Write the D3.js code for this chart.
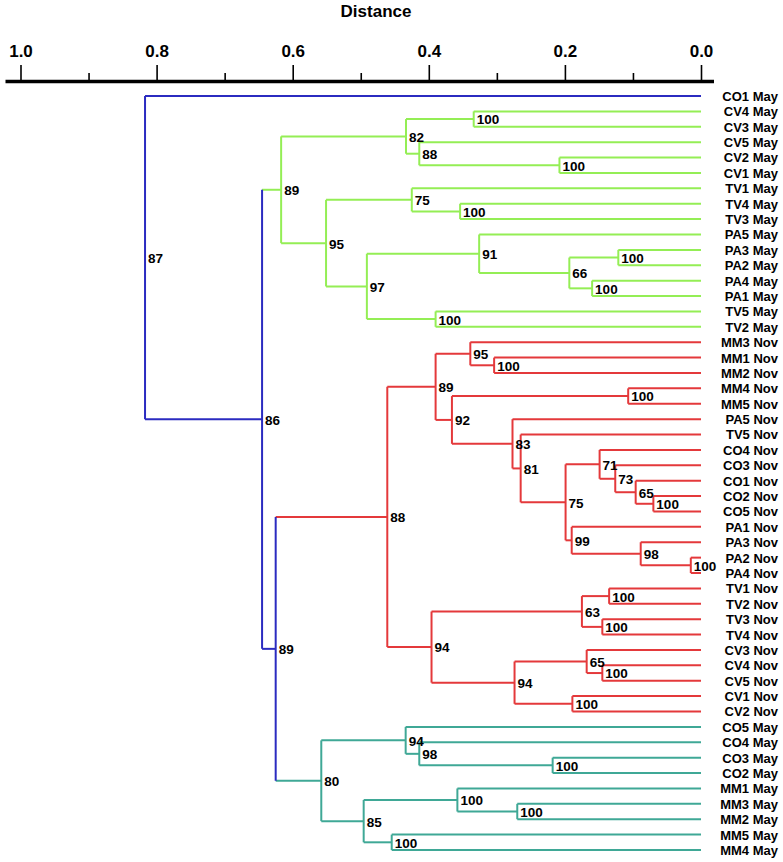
<!DOCTYPE html>
<html><head><meta charset="utf-8">
<script src="https://cdn.jsdelivr.net/npm/d3@7"></script>
<style>
html,body{margin:0;padding:0;background:#fff;}
svg{display:block;font-family:"Liberation Sans",Arial,sans-serif;font-weight:bold;}
</style></head><body>
<svg id="chart" width="783" height="862"></svg>
<script>
// ---- DATA ----
const leaves = [
  "CO1 May","CV4 May","CV3 May","CV5 May","CV2 May","CV1 May","TV1 May","TV4 May","TV3 May",
  "PA5 May","PA3 May","PA2 May","PA4 May","PA1 May","TV5 May","TV2 May",
  "MM3 Nov","MM1 Nov","MM2 Nov","MM4 Nov","MM5 Nov","PA5 Nov","TV5 Nov","CO4 Nov","CO3 Nov",
  "CO1 Nov","CO2 Nov","CO5 Nov","PA1 Nov","PA3 Nov","PA2 Nov","PA4 Nov","TV1 Nov","TV2 Nov",
  "TV3 Nov","TV4 Nov","CV3 Nov","CV4 Nov","CV5 Nov","CV1 Nov","CV2 Nov",
  "CO5 May","CO4 May","CO3 May","CO2 May","MM1 May","MM3 May","MM2 May","MM5 May","MM4 May"
];
// merges: ids < 50 are leaves, id 50+k is merge k
const merges = [
  [1,2],[4,5],[3,51],[50,52],[7,8],[6,54],[10,11],[12,13],[56,57],[9,58],[14,15],[59,60],[55,61],[53,62],
  [17,18],[16,64],[19,20],[26,27],[25,67],[24,68],[23,69],[30,31],[29,71],[28,72],[70,73],[22,74],[21,75],
  [66,76],[65,77],[32,33],[34,35],[79,80],[37,38],[36,82],[39,40],[83,84],[81,85],[78,86],
  [43,44],[42,88],[41,89],[46,47],[45,91],[48,49],[92,93],[90,94],
  [87,95],[63,96],[0,97]
];
const mergeDistance = [
  0.334,0.208,0.414,0.4335,0.354,0.425,0.1215,0.160,0.1935,0.326,0.390,0.491,0.551,0.617,
  0.304,0.339,0.107,0.070,0.096,0.126,0.149,0.015,0.0886,0.190,0.199,0.265,0.277,
  0.366,0.390,0.135,0.145,0.175,0.145,0.168,0.189,0.274,0.396,0.461,
  0.218,0.414,0.434,0.270,0.358,0.4545,0.4957,0.558,
  0.625,0.645,0.817
];
const mergeSupport = [
  100,100,88,82,100,75,100,100,66,91,100,97,95,89,
  100,95,100,100,65,73,71,100,98,99,75,81,83,
  92,89,100,100,63,100,65,100,94,94,88,
  100,98,94,100,100,100,85,80,
  89,86,87
];
const mergeCluster = [
  "mayA","mayA","mayA","mayA","mayA","mayA","mayA","mayA","mayA","mayA","mayA","mayA","mayA","mayA",
  "nov","nov","nov","nov","nov","nov","nov","nov","nov","nov","nov","nov","nov",
  "nov","nov","nov","nov","nov","nov","nov","nov","nov","nov","nov",
  "mayB","mayB","mayB","mayB","mayB","mayB","mayB","mayB",
  "outer","outer","outer"
];
const clusters = ["outer","mayA","nov","mayB"];
const clusterColors = ["#2B2BC0","#94EE55","#E4393B","#3FA896"];
const majorTicks = [1.0,0.8,0.6,0.4,0.2,0.0];
const minorTicks = [0.9,0.7,0.5,0.3,0.1];
const axisTitle = "Distance";

// ---- BUILD TREE ----
const nodeById = {};
leaves.forEach((name,i)=>{ nodeById[i] = {id:i, name, dist:0}; });
merges.forEach((pair,k)=>{
  nodeById[50+k] = {id:50+k, dist:mergeDistance[k], support:mergeSupport[k],
    cluster:mergeCluster[k], children:pair.map(c=>nodeById[c])};
});
const rootData = nodeById[50+merges.length-1];
const root = d3.hierarchy(rootData);

// ---- SCALES ----
const svg = d3.select("#chart");
const x = d3.scaleLinear().domain([1,0]).range([20.5,701]);
const y = d3.scalePoint().domain(leaves).range([96,850]);
const color = d3.scaleOrdinal().domain(clusters).range(clusterColors);

root.eachAfter(n=>{
  if (!n.children) n.py = y(n.data.name);
  else n.py = d3.mean(n.children, c=>c.py);
  n.px = x(n.data.dist);
});
root.each(n=>{
  n.col = n.children ? color(n.data.cluster) : color(n.parent.data.cluster);
});

// ---- AXIS ----
const axisY = 80;
const gAxis = svg.append("g").attr("transform",`translate(0,${axisY})`);
gAxis.call(d3.axisTop(x).tickValues(majorTicks).tickFormat(d3.format(".1f")).tickSize(15).tickPadding(8));
gAxis.select(".domain").remove();
gAxis.selectAll(".tick line").attr("stroke","#000").attr("stroke-width",1.6);
gAxis.selectAll(".tick text").attr("fill","#000").style("font-size","17px").style("font-weight","bold")
  .style("font-family","'Liberation Sans',Arial,sans-serif");
const gMinor = svg.append("g").attr("transform",`translate(0,${axisY})`);
gMinor.call(d3.axisTop(x).tickValues(minorTicks).tickFormat("").tickSize(7));
gMinor.select(".domain").remove();
gMinor.selectAll(".tick line").attr("stroke","#000").attr("stroke-width",1.6);
svg.append("line")
  .attr("x1", x(1)-15).attr("x2", x(0)+13)
  .attr("y1", axisY+1.5).attr("y2", axisY+1.5)
  .attr("stroke","#000").attr("stroke-width",3.5);
svg.append("text").attr("x",376).attr("y",16.5).attr("text-anchor","middle")
  .style("font-size","17px").text(axisTitle);

// ---- TREE LINES ----
const gLines = svg.append("g").attr("fill","none").attr("stroke-width",2);
const internal = root.descendants().filter(n=>n.children);
internal.forEach(n=>{
  n.children.forEach(c=>{
    gLines.append("line")
      .attr("x1", n.px).attr("x2", c.px).attr("y1", c.py).attr("y2", c.py)
      .attr("stroke", c.col);
  });
});
internal.forEach(n=>{
  const ys = n.children.map(c=>c.py);
  gLines.append("line")
    .attr("x1", n.px).attr("x2", n.px).attr("y1", d3.min(ys)).attr("y2", d3.max(ys))
    .attr("stroke", n.col);
});

// ---- LABELS ----
svg.append("g").selectAll("text").data(internal).join("text")
  .attr("x", n=>n.px+3).attr("y", n=>n.py).attr("dy","0.4em")
  .style("font-size","13.5px").attr("fill","#000")
  .text(n=>n.data.support);

svg.append("g").selectAll("text").data(root.leaves()).join("text")
  .attr("x", 778).attr("y", n=>n.py).attr("dy","0.38em").attr("text-anchor","end")
  .style("font-size","13px").attr("fill","#000")
  .text(n=>n.data.name);
</script>
</body></html>
